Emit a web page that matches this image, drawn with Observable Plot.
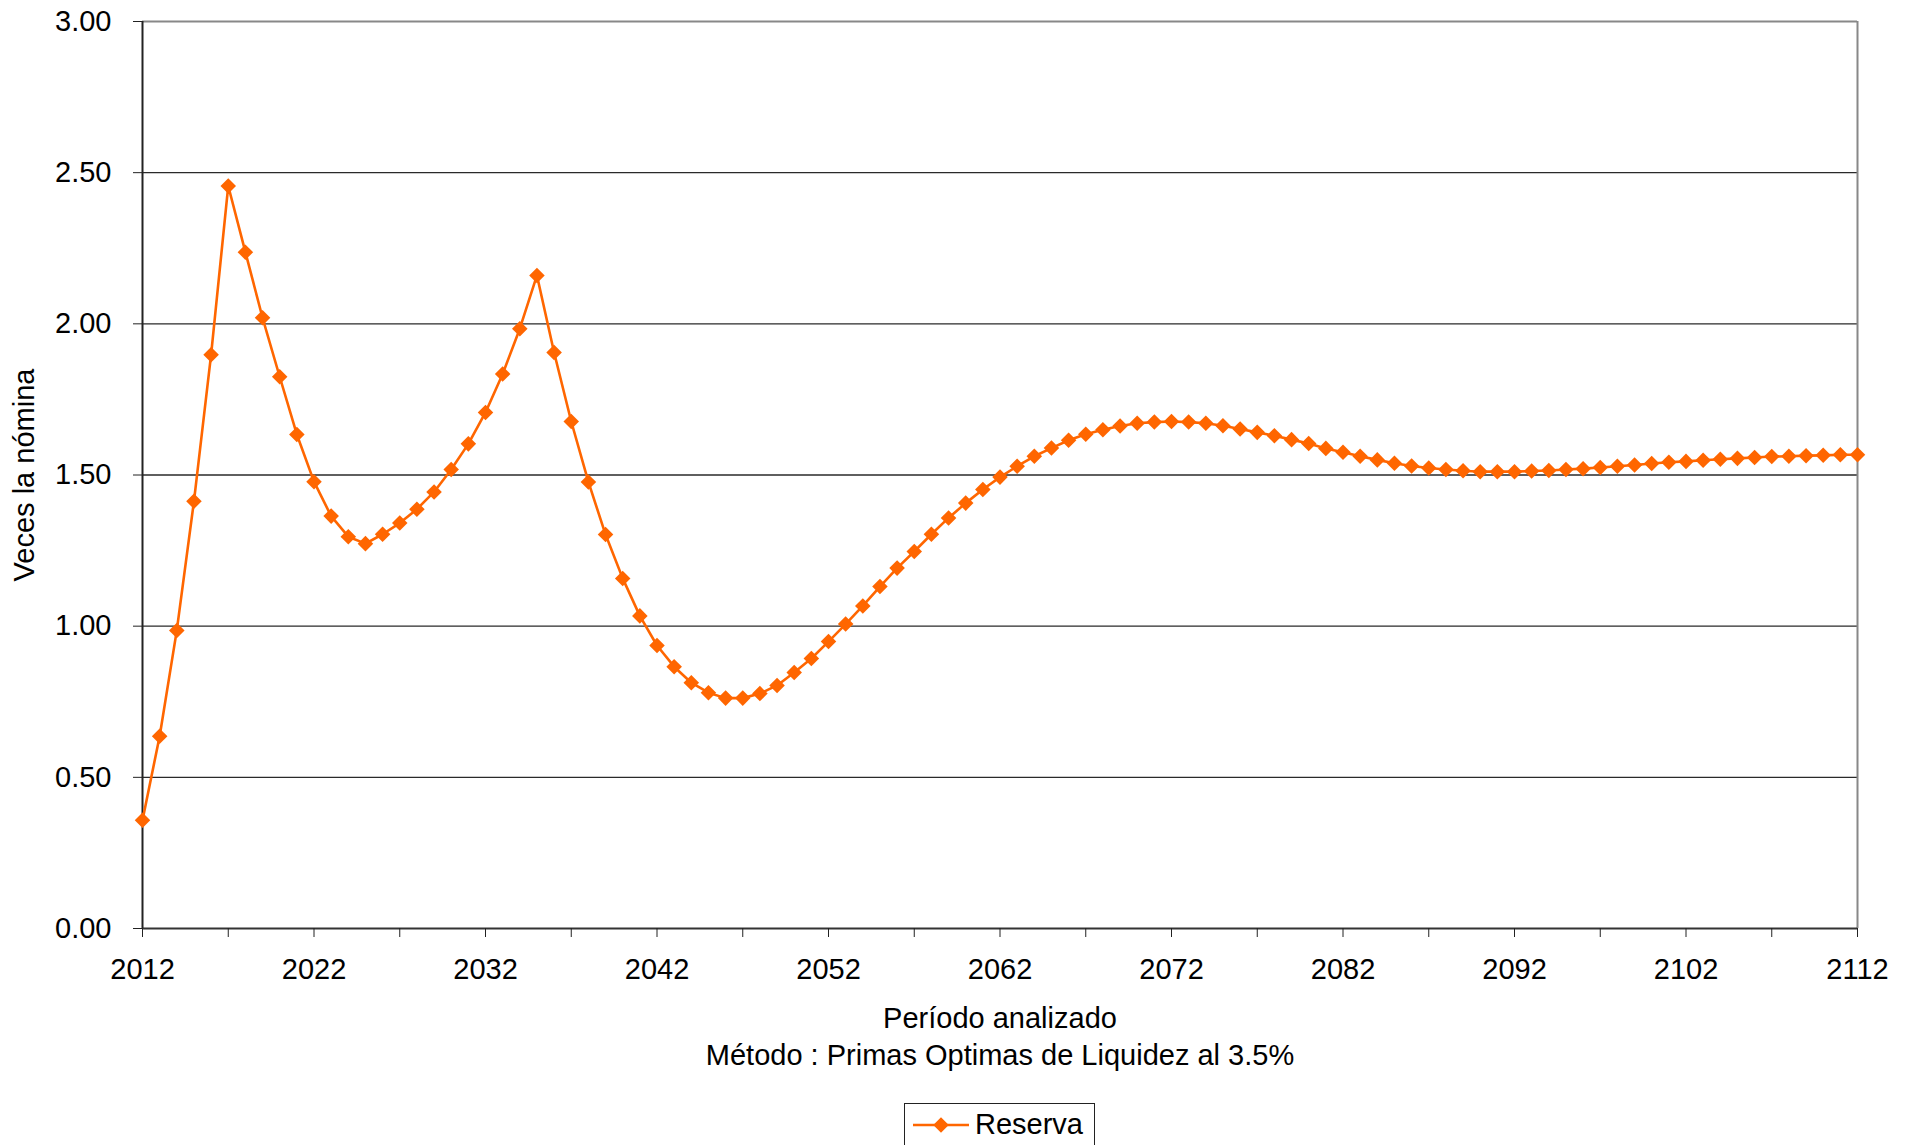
<!DOCTYPE html>
<html>
<head>
<meta charset="utf-8">
<script src="https://cdn.jsdelivr.net/npm/d3@7"></script>
<script src="https://cdn.jsdelivr.net/npm/@observablehq/plot@0.6"></script>
<style>
  html, body { margin: 0; padding: 0; background: white; overflow: hidden; }
  body { width: 1914px; height: 1145px; position: relative; font-family: "Liberation Sans", Arial, sans-serif; }
  #legend { position: absolute; left: 904px; top: 1103px; width: 191px; height: 60px; border: 1.5px solid #222; box-sizing: border-box; background: white; }
  #legend svg { position: absolute; left: 0; top: 0; }
  #legend span { position: absolute; left: 70px; top: 3px; font-size: 29px; color: black; line-height: 34px; }
</style>
</head>
<body>
<div id="chart"></div>
<div id="legend"></div>
<script>
const years = [2012,2013,2014,2015,2016,2017,2018,2019,2020,2021,2022,2023,2024,2025,2026,2027,2028,2029,2030,2031,
2032,2033,2034,2035,2036,2037,2038,2039,2040,2041,2042,2043,2044,2045,2046,2047,2048,2049,2050,2051,
2052,2053,2054,2055,2056,2057,2058,2059,2060,2061,2062,2063,2064,2065,2066,2067,2068,2069,2070,2071,
2072,2073,2074,2075,2076,2077,2078,2079,2080,2081,2082,2083,2084,2085,2086,2087,2088,2089,2090,2091,
2092,2093,2094,2095,2096,2097,2098,2099,2100,2101,2102,2103,2104,2105,2106,2107,2108,2109,2110,2111,2112];

const reserva = [0.358,0.636,0.986,1.413,1.898,2.456,2.237,2.020,1.825,1.634,1.478,1.364,1.296,1.273,1.304,1.341,1.387,1.444,1.518,1.603,
1.707,1.834,1.984,2.160,1.905,1.677,1.477,1.303,1.158,1.034,0.936,0.866,0.813,0.780,0.762,0.762,0.777,0.804,0.847,0.893,
0.949,1.007,1.067,1.131,1.192,1.247,1.304,1.358,1.407,1.452,1.493,1.529,1.562,1.589,1.615,1.635,1.650,1.662,1.671,1.675,
1.677,1.675,1.671,1.663,1.652,1.641,1.630,1.617,1.604,1.588,1.575,1.562,1.550,1.539,1.530,1.523,1.518,1.514,1.511,1.511,
1.511,1.513,1.515,1.518,1.521,1.525,1.529,1.533,1.538,1.542,1.545,1.549,1.552,1.555,1.558,1.561,1.562,1.564,1.565,1.567,1.567];

const xTicks = [2012,2017,2022,2027,2032,2037,2042,2047,2052,2057,2062,2067,2072,2077,2082,2087,2092,2097,2102,2107,2112];
const xLabels = [2012,2022,2032,2042,2052,2062,2072,2082,2092,2102,2112];
const yTicks = [0,0.5,1,1.5,2,2.5,3];
const gridLines = [0.5,1,1.5,2,2.5];

const xTitle = "Período analizado";
const subTitle = "Método : Primas Optimas de Liquidez al 3.5%";
const yTitle = "Veces la nómina";
const seriesName = "Reserva";
const orange = "#FF6600";

const data = years.map((y, i) => ({year: y, value: reserva[i]}));

const chart = Plot.plot({
  width: 1914,
  height: 1085,
  marginLeft: 142,
  marginRight: 57,
  marginTop: 21,
  marginBottom: 157,
  style: {fontSize: "29px", fontFamily: "'Liberation Sans', Arial, sans-serif", color: "black", background: "white", overflow: "visible"},
  x: {domain: [2012, 2112]},
  y: {domain: [0, 3]},
  marks: [
    Plot.ruleY(gridLines, {stroke: "#2a2a2a", strokeWidth: 1.3}),
    Plot.ruleY([3], {stroke: "#888", strokeWidth: 2}),
    Plot.ruleX([2112], {stroke: "#888", strokeWidth: 2}),
    Plot.ruleY([0], {stroke: "#333", strokeWidth: 2}),
    Plot.ruleX([2012], {stroke: "#222", strokeWidth: 2}),
    Plot.axisX({ticks: xTicks, tickFormat: d => xLabels.includes(d) ? String(d) : "", tickSize: 9, tickPadding: 21, label: null, stroke: "#222"}),
    Plot.axisY({ticks: yTicks, tickFormat: d3.format(".2f"), tickSize: 9, tickPadding: 22, label: null, stroke: "#222"}),
    Plot.line(data, {x: "year", y: "value", stroke: orange, strokeWidth: 2.6}),
    Plot.dot(data, {x: "year", y: "value", symbol: "diamond2", r: 7, fill: orange, stroke: "none"}),
    Plot.text([xTitle], {frameAnchor: "bottom", dy: 90, lineAnchor: "middle", fontSize: 29, fill: "black"}),
    Plot.text([subTitle], {frameAnchor: "bottom", dy: 127, lineAnchor: "middle", fontSize: 29, fill: "black"}),
    Plot.text([yTitle], {frameAnchor: "left", dx: -118, rotate: -90, lineAnchor: "middle", textAnchor: "middle", fontSize: 29, fill: "black"})
  ]
});
document.getElementById("chart").appendChild(chart);

// legend
const legend = document.getElementById("legend");
const ns = "http://www.w3.org/2000/svg";
const sw = document.createElementNS(ns, "svg");
sw.setAttribute("width", "70");
sw.setAttribute("height", "45");
const ln = document.createElementNS(ns, "line");
ln.setAttribute("x1", "8"); ln.setAttribute("x2", "64");
ln.setAttribute("y1", "21"); ln.setAttribute("y2", "21");
ln.setAttribute("stroke", orange); ln.setAttribute("stroke-width", "2.6");
sw.appendChild(ln);
const dm = document.createElementNS(ns, "path");
dm.setAttribute("d", d3.symbol(d3.symbolDiamond2, 49 * Math.PI)());
dm.setAttribute("transform", "translate(36,21)");
dm.setAttribute("fill", orange);
sw.appendChild(dm);
legend.appendChild(sw);
const lt = document.createElement("span");
lt.textContent = seriesName;
legend.appendChild(lt);
</script>
</body>
</html>
